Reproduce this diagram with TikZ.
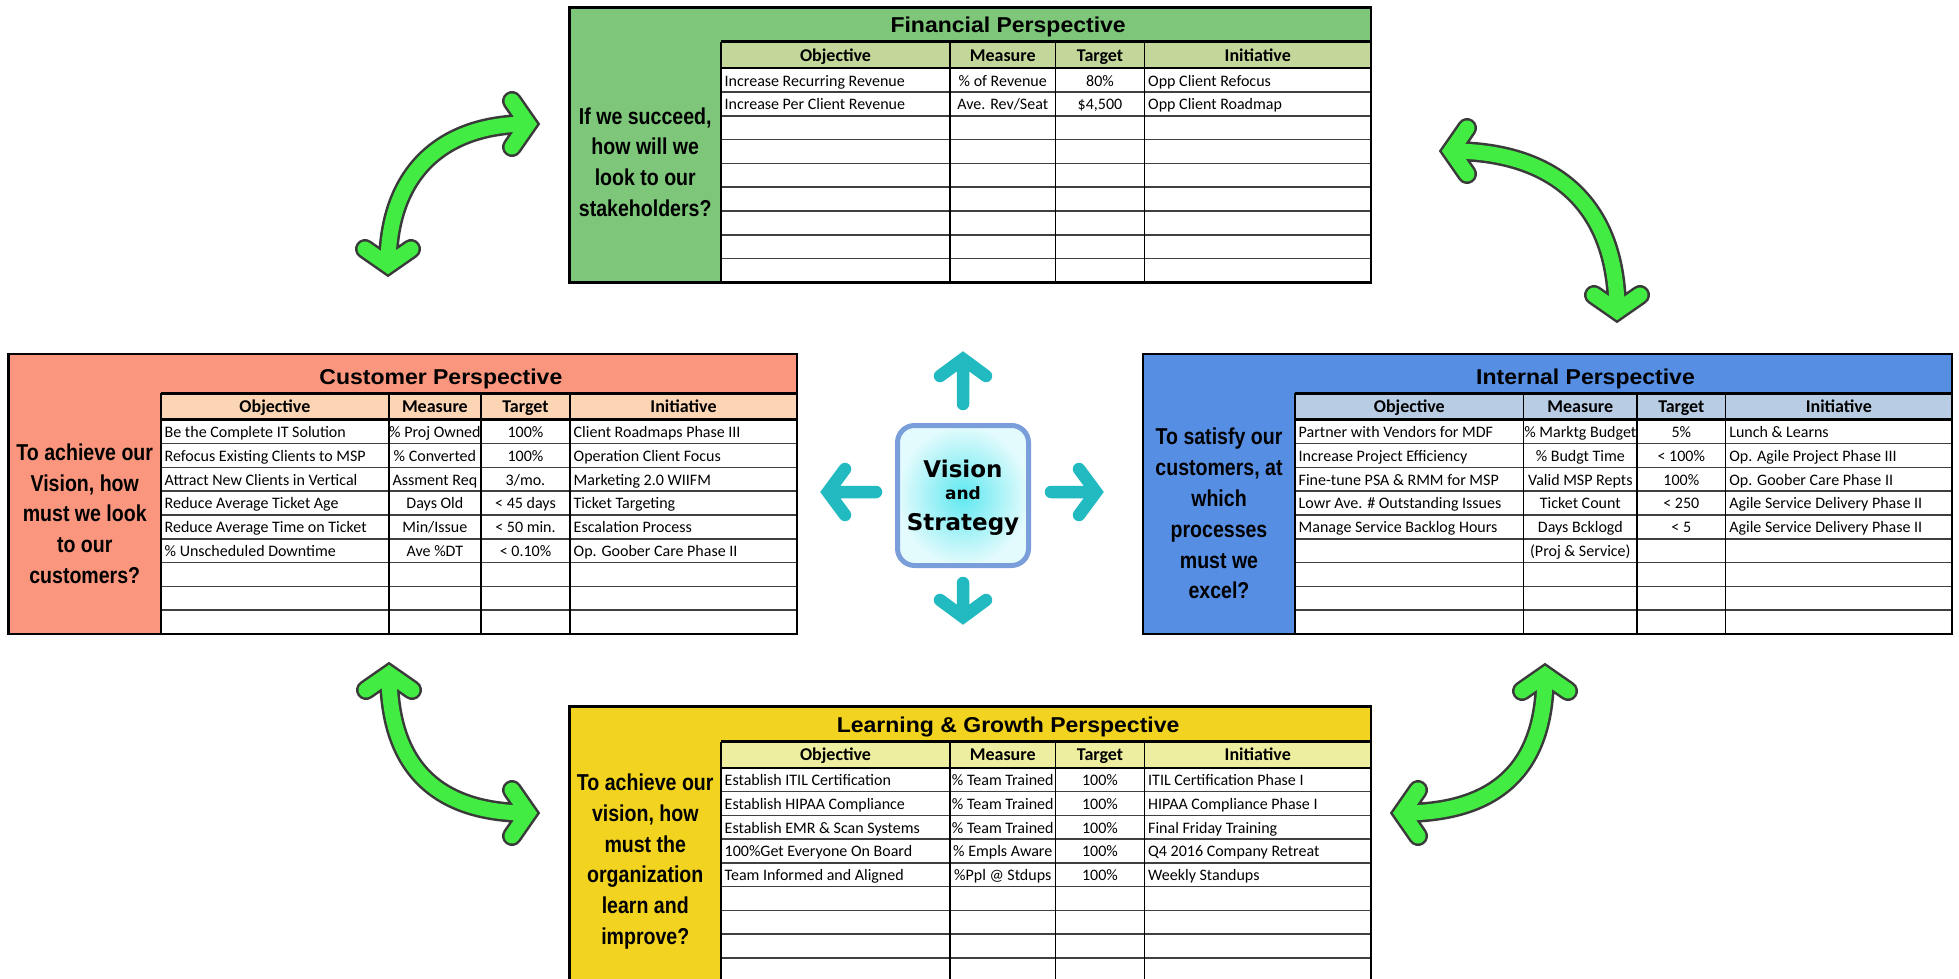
\documentclass[tikz,border=0pt]{standalone}
\usepackage{fontspec}
\usetikzlibrary{calc}
\setmainfont{Carlito}
\newfontfamily\titlefont{Liberation Sans}[FakeStretch=1.07]
\newfontfamily\askfont{Liberation Sans}[FakeStretch=0.85]
\newfontfamily\visfont{DejaVu Sans}

\definecolor{finMain}{RGB}{125,198,122}
\definecolor{finHead}{RGB}{196,215,155}
\definecolor{cusMain}{RGB}{250,150,126}
\definecolor{cusHead}{RGB}{252,213,180}
\definecolor{intMain}{RGB}{86,142,228}
\definecolor{intHead}{RGB}{184,204,228}
\definecolor{lrnMain}{RGB}{242,211,32}
\definecolor{lrnHead}{RGB}{238,238,160}
\definecolor{visEdge}{RGB}{122,158,218}
\definecolor{visIn}{RGB}{95,232,240}
\definecolor{visOut}{RGB}{228,251,253}
\definecolor{tealArrow}{RGB}{32,186,192}
\definecolor{gFill}{RGB}{66,236,66}
\definecolor{gEdge}{RGB}{58,58,58}

% panel geometry: left, top, right, bottom, table left, three column rules, title-row bottom
\newcommand\panelgeom[9]{\def\bxL{#1}\def\bxT{#2}\def\bxR{#3}\def\bxB{#4}%
  \def\bxQ{#5}\def\bxA{#6}\def\bxM{#7}\def\bxG{#8}\def\bxTi{#9}}

% #1 name, #2 panel fill, #3 header fill, #4 title, #5 guiding question
\newcommand\drawpanel[5]{%
  \def\bxN{#1}%
  \pgfmathsetmacro\bxH{\bxTi+26.4}%
  \pgfmathsetmacro\bxRH{(\bxB-\bxH)/9}%
  \fill[#2] (\bxL,\bxT) rectangle (\bxR,\bxB);
  \fill[#3] (\bxQ,\bxTi) rectangle (\bxR,\bxH);
  \fill[white] (\bxQ,\bxH) rectangle (\bxR,\bxB);
  \foreach \k in {1,...,8} \draw[rowrule] (\bxQ,{\bxH+\k*\bxRH}) -- (\bxR,{\bxH+\k*\bxRH});
  \foreach \cx in {\bxA,\bxM,\bxG} \draw[colrule] (\cx,\bxTi) -- (\cx,\bxB);
  \draw[heavyrule] (\bxQ,\bxTi) -- (\bxR,\bxTi) (\bxQ,\bxH) -- (\bxR,\bxH) (\bxQ,\bxTi) -- (\bxQ,\bxB);
  \draw[frame] (\bxL,\bxT) rectangle (\bxR,\bxB);
  \node[ttl] (#1-title) at ({((\bxL+\bxQ)/2+\bxR)/2},\bxTi-9) {#4};
  \node[hdr] (#1-h1) at ({(\bxQ+\bxA)/2},\bxH-7) {Objective};
  \node[hdr] (#1-h2) at ({(\bxA+\bxM)/2},\bxH-7) {Measure};
  \node[hdr] (#1-h3) at ({(\bxM+\bxG)/2},\bxH-7) {Target};
  \node[hdr] (#1-h4) at ({(\bxG+\bxR)/2},\bxH-7) {Initiative};
  \node[ask] (#1-ask) at ({(\bxL+\bxQ)/2},{(\bxTi+\bxB)/2}) {#5};
}

% one filled table row: index, objective, measure, target, initiative
\newcommand\rowtxt[5]{%
  \pgfmathsetmacro\rowY{\bxH+#1*\bxRH-6}%
  \node[cellL] (\bxN-r#1-o) at (\bxQ+3.5,\rowY) {#2};
  \node[cellC] (\bxN-r#1-m) at ({(\bxA+\bxM)/2},\rowY) {#3};
  \node[cellC] (\bxN-r#1-t) at ({(\bxM+\bxG)/2},\rowY) {#4};
  \node[cellL] (\bxN-r#1-i) at (\bxG+3.5,\rowY) {#5};
}

% double-headed curved arrow: dark rim first, green body on top
\newcommand\twoway[1]{\draw[gout] #1; \draw[gin] #1;}

\begin{document}
\begin{tikzpicture}[x=1pt,y=-1pt,
  frame/.style={draw=black, line width=2.6pt},
  heavyrule/.style={draw=black, line width=2.6pt},
  rowrule/.style={draw=black!75, line width=1.6pt},
  colrule/.style={draw=black, line width=1.4pt},
  ttl/.style={font={\titlefont\bfseries\fontsize{21.5}{24}\selectfont}, anchor=base, inner sep=0pt},
  hdr/.style={font={\bfseries\fontsize{18}{20}\selectfont}, anchor=base, inner sep=0pt},
  ask/.style={font={\askfont\bfseries\fontsize{23}{30.8}\selectfont}, align=center, inner sep=0pt},
  cellL/.style={font={\fontsize{16}{18}\selectfont}, anchor=base west, inner sep=0pt},
  cellC/.style={font={\fontsize{16}{18}\selectfont}, anchor=base, inner sep=0pt},
  visbox/.style={draw=visEdge, line width=5pt, rounded corners=17pt, inner color=visIn, outer color=visOut},
  visword/.style={font={\visfont\bfseries\fontsize{23}{26}\selectfont}, anchor=base, inner sep=0pt},
  tealarrow/.style={draw=tealArrow, line width=12.5pt, line cap=round, line join=miter},
  gout/.style={draw=gEdge, line width=20pt, line cap=round, line join=miter},
  gin/.style={draw=gFill, line width=15pt, line cap=round, line join=miter}]

\useasboundingbox (0,0) rectangle (1959,979);
\clip (0,0) rectangle (1959,979);
\fill[white] (0,0) rectangle (1959,979);

% ---------- Financial ----------
\panelgeom{569.5}{7.5}{1371}{282.5}{721}{950}{1055.5}{1144.5}{41.8}
\drawpanel{fin}{finMain}{finHead}{Financial Perspective}{If we succeed,\\how will we\\look to our\\stakeholders?}
\rowtxt{1}{Increase Recurring Revenue}{\% of Revenue}{80\%}{Opp Client Refocus}
\rowtxt{2}{Increase Per Client Revenue}{Ave. Rev/Seat}{\$4,500}{Opp Client Roadmap}

% ---------- Customer ----------
\panelgeom{8.5}{354}{797}{634}{161}{388.8}{481}{570}{393.3}
\drawpanel{cus}{cusMain}{cusHead}{Customer Perspective}{To achieve our\\Vision, how\\must we look\\to our\\customers?}
\rowtxt{1}{Be the Complete IT Solution}{\% Proj Owned}{100\%}{Client Roadmaps Phase III}
\rowtxt{2}{Refocus Existing Clients to MSP}{\% Converted}{100\%}{Operation Client Focus}
\rowtxt{3}{Attract New Clients in Vertical}{Assment Req}{3/mo.}{Marketing 2.0 WIIFM}
\rowtxt{4}{Reduce Average Ticket Age}{Days Old}{< 45 days}{Ticket Targeting}
\rowtxt{5}{Reduce Average Time on Ticket}{Min/Issue}{< 50 min.}{Escalation Process}
\rowtxt{6}{\% Unscheduled Downtime}{Ave \%DT}{< 0.10\%}{Op. Goober Care Phase II}

% ---------- Internal ----------
\panelgeom{1143}{354}{1952}{634}{1295}{1523.6}{1637}{1725.6}{393.3}
\drawpanel{int}{intMain}{intHead}{Internal Perspective}{To satisfy our\\customers, at\\which\\processes\\must we\\excel?}
\rowtxt{1}{Partner with Vendors for MDF}{\% Marktg Budget}{5\%}{Lunch \& Learns}
\rowtxt{2}{Increase Project Efficiency}{\% Budgt Time}{< 100\%}{Op. Agile Project Phase III}
\rowtxt{3}{Fine-tune PSA \& RMM for MSP}{Valid MSP Repts}{100\%}{Op. Goober Care Phase II}
\rowtxt{4}{Lowr Ave. \# Outstanding Issues}{Ticket Count}{< 250}{Agile Service Delivery Phase II}
\rowtxt{5}{Manage Service Backlog Hours}{Days Bcklogd}{< 5}{Agile Service Delivery Phase II}
\pgfmathsetmacro\rowY{\bxH+6*\bxRH-6}
\node[cellC] (int-r6-m) at ({(\bxA+\bxM)/2},\rowY) {(Proj \& Service)};

% ---------- Learning & Growth ----------
\panelgeom{569.5}{706.7}{1371}{981.7}{721}{950}{1055.5}{1144.5}{741.5}
\drawpanel{lrn}{lrnMain}{lrnHead}{Learning \& Growth Perspective}{To achieve our\\vision, how\\must the\\organization\\learn and\\improve?}
\rowtxt{1}{Establish ITIL Certification}{\% Team Trained}{100\%}{ITIL Certification Phase I}
\rowtxt{2}{Establish HIPAA Compliance}{\% Team Trained}{100\%}{HIPAA Compliance Phase I}
\rowtxt{3}{Establish EMR \& Scan Systems}{\% Team Trained}{100\%}{Final Friday Training}
\rowtxt{4}{100\%Get Everyone On Board}{\% Empls Aware}{100\%}{Q4 2016 Company Retreat}
\rowtxt{5}{Team Informed and Aligned}{\%Ppl @ Stdups}{100\%}{Weekly Standups}

% ---------- Vision and Strategy hub ----------
\node[visbox, minimum width=131pt, minimum height=140pt] (vision) at (963,495.5) {};
\node[visword] (vis-1) at (963,477) {Vision};
\node[visword, font={\visfont\bfseries\fontsize{17}{20}\selectfont}] (vis-2) at (963,499) {and};
\node[visword] (vis-3) at (963,530) {Strategy};

\coordinate (upTip) at (963,359);
\coordinate (dnTip) at (963,617);
\coordinate (lfTip) at (828,492);
\coordinate (rtTip) at (1096,492);
\draw[tealarrow] ([yshift=19pt]vision.north) -- (upTip)
  ($(upTip)+(-23,17)$) -- (upTip) -- ($(upTip)+(23,17)$);
\draw[tealarrow] ([yshift=-15pt]vision.south) -- (dnTip)
  ($(dnTip)+(-23,-17)$) -- (dnTip) -- ($(dnTip)+(23,-17)$);
\draw[tealarrow] ([xshift=-19pt,yshift=3.5pt]vision.west) -- (lfTip)
  ($(lfTip)+(17,-23)$) -- (lfTip) -- ($(lfTip)+(17,23)$);
\draw[tealarrow] ([xshift=20pt,yshift=3.5pt]vision.east) -- (rtTip)
  ($(rtTip)+(-17,-23)$) -- (rtTip) -- ($(rtTip)+(-17,23)$);

% ---------- curved links between neighbouring perspectives ----------
\coordinate (tlA) at (528,124);  \coordinate (tlB) at (388,265);
\coordinate (trA) at (1451,151); \coordinate (trB) at (1617,311);
\coordinate (blA) at (389,674);  \coordinate (blB) at (528,813);
\coordinate (brA) at (1545,675); \coordinate (brB) at (1402,813);

\twoway{($(tlA)+(-16,-23)$) -- (tlA) -- ($(tlA)+(-16,23)$)
  (tlA) .. controls (440,124) and (388,175) .. (tlB)
  ($(tlB)+(-23,-16)$) -- (tlB) -- ($(tlB)+(23,-16)$)}
\twoway{($(trA)+(16,-23)$) -- (trA) -- ($(trA)+(16,23)$)
  (trA) .. controls (1560,151) and (1617,210) .. (trB)
  ($(trB)+(-23,-16)$) -- (trB) -- ($(trB)+(23,-16)$)}
\twoway{($(blA)+(-23,16)$) -- (blA) -- ($(blA)+(23,16)$)
  (blA) .. controls (389,770) and (440,813) .. (blB)
  ($(blB)+(-16,-23)$) -- (blB) -- ($(blB)+(-16,23)$)}
\twoway{($(brA)+(-23,16)$) -- (brA) -- ($(brA)+(23,16)$)
  (brA) .. controls (1545,770) and (1495,813) .. (brB)
  ($(brB)+(16,-23)$) -- (brB) -- ($(brB)+(16,23)$)}

\end{tikzpicture}
\end{document}
